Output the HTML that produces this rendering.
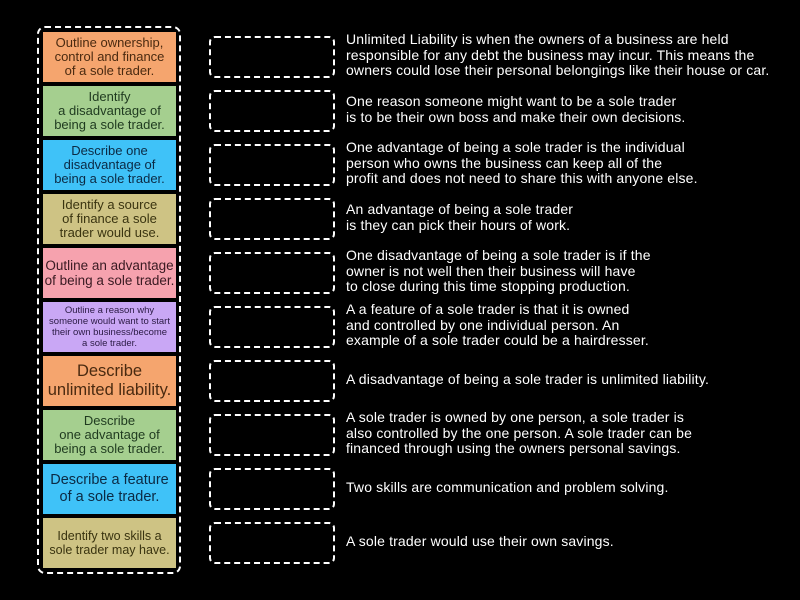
<!DOCTYPE html>
<html><head><style>
body{margin:0;width:800px;height:600px;background:#000;position:relative;overflow:hidden;font-family:"Liberation Sans","DejaVu Sans",sans-serif}
.cont{position:absolute;left:37px;top:26px;width:140px;height:544px;border:2px dashed #fff;border-radius:8px}
.c{position:absolute;left:43px;width:133px;height:50px;display:flex;align-items:center;justify-content:center;text-align:center;font-size:13px;line-height:14px}
.b{position:absolute;left:209px;width:122px;height:38px;border:2px dashed #fff;border-radius:6px}
.t{position:absolute;left:346px;color:#fff;font-size:14px;letter-spacing:0.15px;line-height:15.5px;white-space:nowrap}
.o{background:#f5a56e;color:#4a2a10}.g{background:#a5cf8f;color:#1f3a1f}.bl{background:#3fc2f8;color:#0b2a44}.ol{background:#cec384;color:#3a3410}.p{background:#f6a2ae;color:#3a1a22}.pu{background:#c9a7f5;color:#2a1a44}
</style></head><body>
<div class="cont"></div>
<div class="c o" style="top:32px">Outline ownership,<br>control and finance<br>of a sole trader.</div>
<div class="c g" style="top:86px">Identify<br>a disadvantage of<br>being a sole trader.</div>
<div class="c bl" style="top:140px">Describe one<br>disadvantage of<br>being a sole trader.</div>
<div class="c ol" style="top:194px">Identify a source<br>of finance a sole<br>trader would use.</div>
<div class="c p" style="top:248px;font-size:13.5px;line-height:15px">Outline an advantage<br>of being a sole trader.</div>
<div class="c pu" style="top:302px;font-size:9.5px;line-height:11px">Outline a reason why<br>someone would want to start<br>their own business/become<br>a sole trader.</div>
<div class="c o" style="top:356px;font-size:16.5px;line-height:19px">Describe<br>unlimited liability.</div>
<div class="c g" style="top:410px">Describe<br>one advantage of<br>being a sole trader.</div>
<div class="c bl" style="top:464px;font-size:14.5px;line-height:17px">Describe a feature<br>of a sole trader.</div>
<div class="c ol" style="top:518px;font-size:12.5px;line-height:14px">Identify two skills a<br>sole trader may have.</div>

<div class="b" style="top:36px"></div>
<div class="b" style="top:90px"></div>
<div class="b" style="top:144px"></div>
<div class="b" style="top:198px"></div>
<div class="b" style="top:252px"></div>
<div class="b" style="top:306px"></div>
<div class="b" style="top:360px"></div>
<div class="b" style="top:414px"></div>
<div class="b" style="top:468px"></div>
<div class="b" style="top:522px"></div>

<div class="t" style="top:32px">Unlimited Liability is when the owners of a business are held<br>responsible for any debt the business may incur. This means the<br>owners could lose their personal belongings like their house or car.</div>
<div class="t" style="top:94px">One reason someone might want to be a sole trader<br>is to be their own boss and make their own decisions.</div>
<div class="t" style="top:140px">One advantage of being a sole trader is the individual<br>person who owns the business can keep all of the<br>profit and does not need to share this with anyone else.</div>
<div class="t" style="top:202px">An advantage of being a sole trader<br>is they can pick their hours of work.</div>
<div class="t" style="top:248px">One disadvantage of being a sole trader is if the<br>owner is not well then their business will have<br>to close during this time stopping production.</div>
<div class="t" style="top:302px">A a feature of a sole trader is that it is owned<br>and controlled by one individual person. An<br>example of a sole trader could be a hairdresser.</div>
<div class="t" style="top:372px">A disadvantage of being a sole trader is unlimited liability.</div>
<div class="t" style="top:410px">A sole trader is owned by one person, a sole trader is<br>also controlled by the one person. A sole trader can be<br>financed through using the owners personal savings.</div>
<div class="t" style="top:480px">Two skills are communication and problem solving.</div>
<div class="t" style="top:534px">A sole trader would use their own savings.</div>
</body></html>
